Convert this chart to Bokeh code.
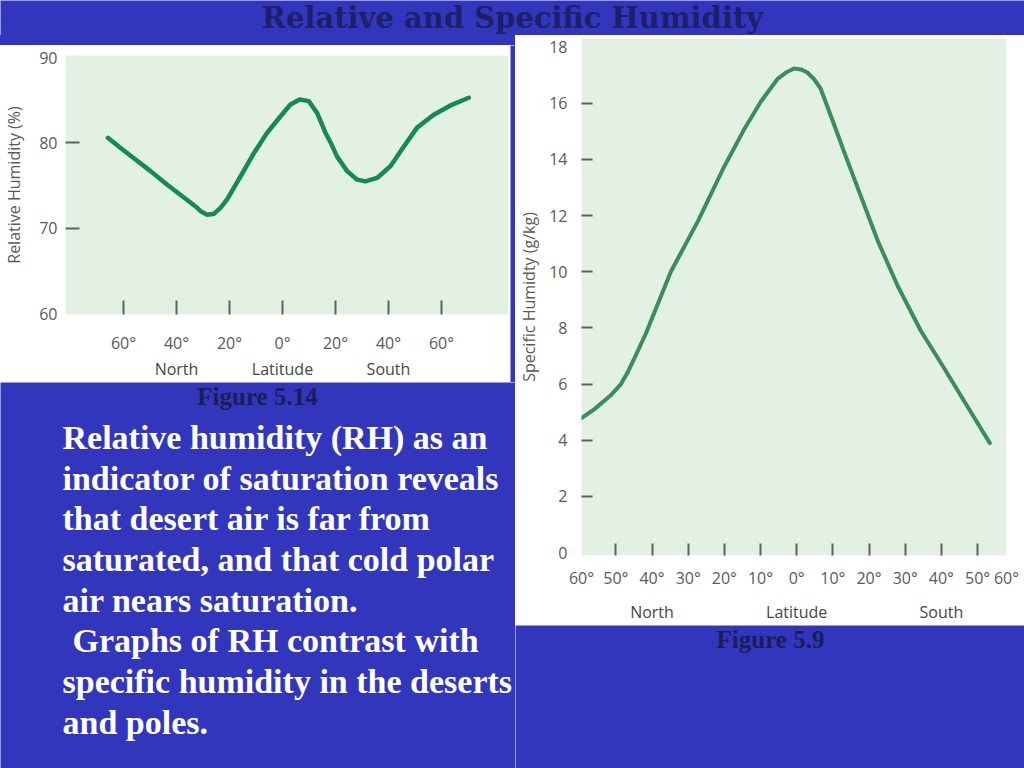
from bokeh.plotting import figure
from bokeh.models import Range1d, FixedTicker, LinearAxis, ColumnDataSource, Div, InlineStyleSheet
from bokeh.layouts import row, column
from bokeh.embed import file_html
from bokeh.resources import INLINE
from bokeh.core.properties import value

# ---------------- data ----------------
# Relative humidity (Figure 5.14); latitude positive = North
rh_lat = [65.9, 61.1, 56.1, 49.8, 43.5, 37.2, 32.2, 30.9, 28.4, 25.9, 23.4, 20.9, 15.8, 10.8,
          5.8, 0.8, -3.0, -6.5, -9.9, -13.1, -16.2, -18.4, -20.6, -24.4, -28.2, -31.3,
          -35.7, -40.8, -45.8, -50.8, -57.1, -63.4, -70.3]
rh_val = [80.6, 79.4, 78.2, 76.7, 75.1, 73.6, 72.4, 72.0, 71.6, 71.7, 72.4, 73.4, 76.1, 78.8,
          81.2, 83.1, 84.5, 85.1, 84.9, 83.5, 81.2, 79.9, 78.4, 76.7, 75.7, 75.5,
          75.9, 77.3, 79.6, 81.8, 83.3, 84.4, 85.3]
rh_x_ticks = [60, 40, 20, 0, -20, -40, -60]
rh_x_labels = ["60°", "40°", "20°", "0°", "20°", "40°", "60°"]
rh_y_labels = [60, 70, 80, 90]
rh_y_marks = [70, 80]

# Specific humidity (Figure 5.9)
sh_lat = [59.4, 56.0, 51.4, 48.6, 46.8, 44.2, 41.7, 34.8, 27.3, 20.2, 14.6, 9.9, 5.3, 2.8,
          0.75, -1.2, -2.96, -4.8, -6.6, -10.3, -13.0, -17.7, -22.4, -27.9, -34.3, -40.6,
          -47.2, -53.4]
sh_val = [4.8, 5.1, 5.6, 6.0, 6.4, 7.1, 7.8, 10.0, 11.8, 13.7, 15.05, 16.06, 16.86, 17.1,
          17.23, 17.2, 17.09, 16.85, 16.52, 15.25, 14.3, 12.7, 11.1, 9.5, 7.9, 6.6,
          5.2, 3.9]
# end labels sit on the frame edges, as in the original figure
sh_x_ticks = [59.5, 50, 40, 30, 20, 10, 0, -10, -20, -30, -40, -50, -58.0]
sh_x_labels = ["60°", "50°", "40°", "30°", "20°", "10°", "0°", "10°", "20°", "30°", "40°", "50°", "60°"]
sh_x_marks = [50, 40, 30, 20, 10, 0, -10, -20, -30, -40, -50]
sh_y_labels = [0, 2, 4, 6, 8, 10, 12, 14, 16, 18]
sh_y_marks = [2, 4, 6, 8, 10, 12, 14, 16]

hemi_ticks = [40, 0, -40]
hemi_labels = ["North", "Latitude", "South"]

title_text = "Relative and Specific Humidity"
body_lines = [
    "Relative humidity (RH) as an",
    "indicator of saturation reveals",
    "that desert air is far from",
    "saturated, and that cold polar",
    "air nears saturation.",
    "Graphs of RH contrast with",
    "specific humidity in the deserts",
    "and poles.",
]

# ---------------- style ----------------
BLUE = "#3236bc"
NAVY = "#1e1f6a"
PANEL = "#e3f1e5"
GRAY = "#5a5a5a"
SANS = "Open Sans"
SERIF = "Liberation Serif"


def no_align(p):
    try:
        p.frame_align = False
    except Exception:
        pass


def blue_fig(w, h):
    p = figure(width=w, height=h, x_range=Range1d(0, w), y_range=Range1d(h, 0),
               output_backend="svg", toolbar_location=None, min_border=0,
               x_axis_location=None, y_axis_location=None, title_location=None)
    p.background_fill_color = BLUE
    p.border_fill_color = BLUE
    p.outline_line_color = None
    p.grid.visible = False
    no_align(p)
    return p


def style_axis(ax, standoff, tick_len=0, tick_is_major=True):
    ax.axis_line_color = None
    ax.major_label_text_font = SANS
    ax.major_label_text_font_size = "16px"
    ax.major_label_text_color = GRAY
    ax.major_label_standoff = standoff
    ax.axis_label_text_font = SANS
    ax.axis_label_text_font_size = "16px"
    ax.axis_label_text_font_style = "normal"
    ax.axis_label_text_color = GRAY
    ax.major_tick_out = 0
    ax.minor_tick_out = 0
    if tick_is_major and tick_len:
        ax.major_tick_in = tick_len
        ax.major_tick_line_color = "#606060"
        ax.major_tick_line_width = 2
    else:
        ax.major_tick_in = 0
        ax.major_tick_line_color = None
    if not tick_is_major:
        ax.minor_tick_in = tick_len
        ax.minor_tick_line_color = "#606060"
        ax.minor_tick_line_width = 2
    else:
        ax.minor_tick_line_color = None


def chart_fig(w, h, xr, yr, bl, br, bt, bb):
    p = figure(width=w, height=h, x_range=xr, y_range=yr, output_backend="svg",
               toolbar_location=None, x_axis_location=None, y_axis_location=None,
               title_location=None,
               min_border_left=bl, min_border_right=br, min_border_top=bt, min_border_bottom=bb)
    p.background_fill_color = PANEL
    p.border_fill_color = "white"
    p.outline_line_color = None
    p.grid.visible = False
    no_align(p)
    return p


# ---------------- Figure 5.14 (relative humidity) ----------------
p1 = chart_fig(510, 337, Range1d(81.9, -85.3), Range1d(59.9, 90.25), 65, 2, 10, 68)
p1.line(x="lat", y="rh", source=ColumnDataSource(dict(lat=rh_lat, rh=rh_val)),
        line_color="#16885a", line_width=4.5, line_join="round", line_cap="round")

y1 = LinearAxis(ticker=FixedTicker(ticks=rh_y_labels, minor_ticks=rh_y_marks),
                axis_label="Relative Humidity (%)")
style_axis(y1, 8, 14, tick_is_major=False)
y1.axis_label_standoff = 11
p1.add_layout(y1, "left")

x1 = LinearAxis(ticker=FixedTicker(ticks=rh_x_ticks),
                major_label_overrides=dict(zip(rh_x_ticks, rh_x_labels)))
style_axis(x1, 17, 14, tick_is_major=True)
p1.add_layout(x1, "below")

x1b = LinearAxis(ticker=FixedTicker(ticks=hemi_ticks),
                 major_label_overrides=dict(zip(hemi_ticks, hemi_labels)))
style_axis(x1b, 1)
x1b.major_label_text_color = "#454545"
p1.add_layout(x1b, "below")

# ---------------- Figure 5.9 (specific humidity) ----------------
p2 = chart_fig(509, 590, Range1d(sh_x_ticks[0], sh_x_ticks[-1]), Range1d(-0.1, 18.3), 66, 18, 3, 69)
p2.line(x="lat", y="sh", source=ColumnDataSource(dict(lat=sh_lat, sh=sh_val)),
        line_color="#3a8d5d", line_width=4, line_join="round", line_cap="round")

y2 = LinearAxis(ticker=FixedTicker(ticks=sh_y_labels, minor_ticks=sh_y_marks),
                axis_label="Specific Humidty (g/kg)")
style_axis(y2, 14, 11, tick_is_major=False)
y2.axis_label_standoff = 6
p2.add_layout(y2, "left")

x2 = LinearAxis(ticker=FixedTicker(ticks=sh_x_ticks, minor_ticks=sh_x_marks),
                major_label_overrides=dict(zip(sh_x_ticks, sh_x_labels)))
style_axis(x2, 11, 12, tick_is_major=False)
p2.add_layout(x2, "below")

x2b = LinearAxis(ticker=FixedTicker(ticks=hemi_ticks),
                 major_label_overrides=dict(zip(hemi_ticks, hemi_labels)))
style_axis(x2b, 9)
x2b.major_label_text_color = "#454545"
p2.add_layout(x2b, "below")

# ---------------- slide pieces ----------------
title = blue_fig(1024, 35)
title.text(x=[512], y=[17.5], text=[title_text], text_font=value("DejaVu Serif"), text_font_size="29px",
           text_font_style="bold", text_color=NAVY, text_align="center", text_baseline="alphabetic")

strip = Div(text="", width=515, height=10, margin=0,
            styles={"background-color": BLUE, "width": "515px", "height": "10px", "display": "block"},
            stylesheets=[InlineStyleSheet(css=":host { background-color: %s; }" % BLUE)])
gap = blue_fig(5, 337)

body = blue_fig(515, 386)
body.text(x=[257], y=[14], text=["Figure 5.14"], text_font=value(SERIF), text_font_size="25px",
          text_font_style="bold", text_color="#1b1c58", text_align="center", text_baseline="alphabetic")
bx = [62, 62, 62, 62, 62, 72, 62, 62]
by = [55, 96, 136, 177, 218, 258, 299, 340]
body.text(x=bx, y=by, text=body_lines, text_font=value(SERIF), text_font_size="34px",
          text_font_style="bold", text_color="white", text_align="left", text_baseline="alphabetic")

cap2 = blue_fig(509, 143)
cap2.text(x=[255], y=[13.5], text=["Figure 5.9"], text_font=value(SERIF), text_font_size="25px",
          text_font_style="bold", text_color="#1b1c58", text_align="center", text_baseline="alphabetic")

left = column(strip, row(p1, gap), body)
right = column(p2, cap2)
layout = column(title, row(left, right))

open("out.html", "w").write(file_html(layout, INLINE))
